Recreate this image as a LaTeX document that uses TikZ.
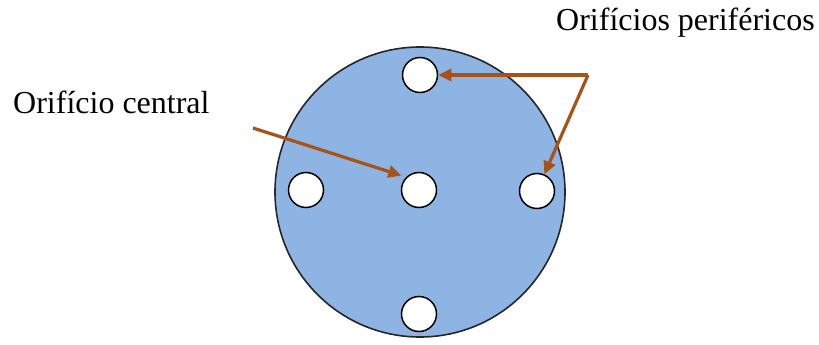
\documentclass[tikz,border=0pt]{standalone}
\usepackage{fontspec}
\setmainfont{Liberation Serif}
\usepackage{tikz}
\usetikzlibrary{arrows.meta, positioning}
\definecolor{diskcol}{HTML}{8EB4E3}
\definecolor{arrowcol}{HTML}{A65318}

\begin{document}
\begin{tikzpicture}[x=1pt, y=-1pt,
  disk/.style={circle, draw=black!85, fill=diskcol, line width=1.6pt,
    minimum size=290pt, inner sep=0pt},
  hole/.style={circle, draw=black, fill=white, line width=1.5pt,
    minimum size=35pt, inner sep=0pt},
  conn/.style={-{Triangle[length=13pt, width=12pt]}, draw=arrowcol,
    line width=3.2pt, line join=miter},
  label/.style={font=\fontsize{32}{38}\selectfont, anchor=base west, inner sep=0pt},
]
\useasboundingbox (0,0) rectangle (819,345);

% =================== disk and holes ===================
\node[disk] (disk) at (420,192) {};
\node[hole] (top) at (420,75) {};
\node[hole] (left) at (306,190) {};
\node[hole] (ctr) at (419,190) {};
\node[hole] (right) at (537,191) {};
\node[hole] (bottom) at (419,314) {};

% =================== labels ===================
\node[label] (central) at (13,113) {Orifício central};
\node[label] (perif) at (556,31) {Orifícios periféricos};

% =================== arrows ===================
\coordinate (cstart) at (253,128);
\coordinate (pcorner) at (588,75);
\draw[conn, shorten >=5pt] (cstart) -- (ctr.north west);
\draw[conn] (pcorner) -- (top.east);
\draw[conn] (pcorner) -- (right);

\end{tikzpicture}
\end{document}
